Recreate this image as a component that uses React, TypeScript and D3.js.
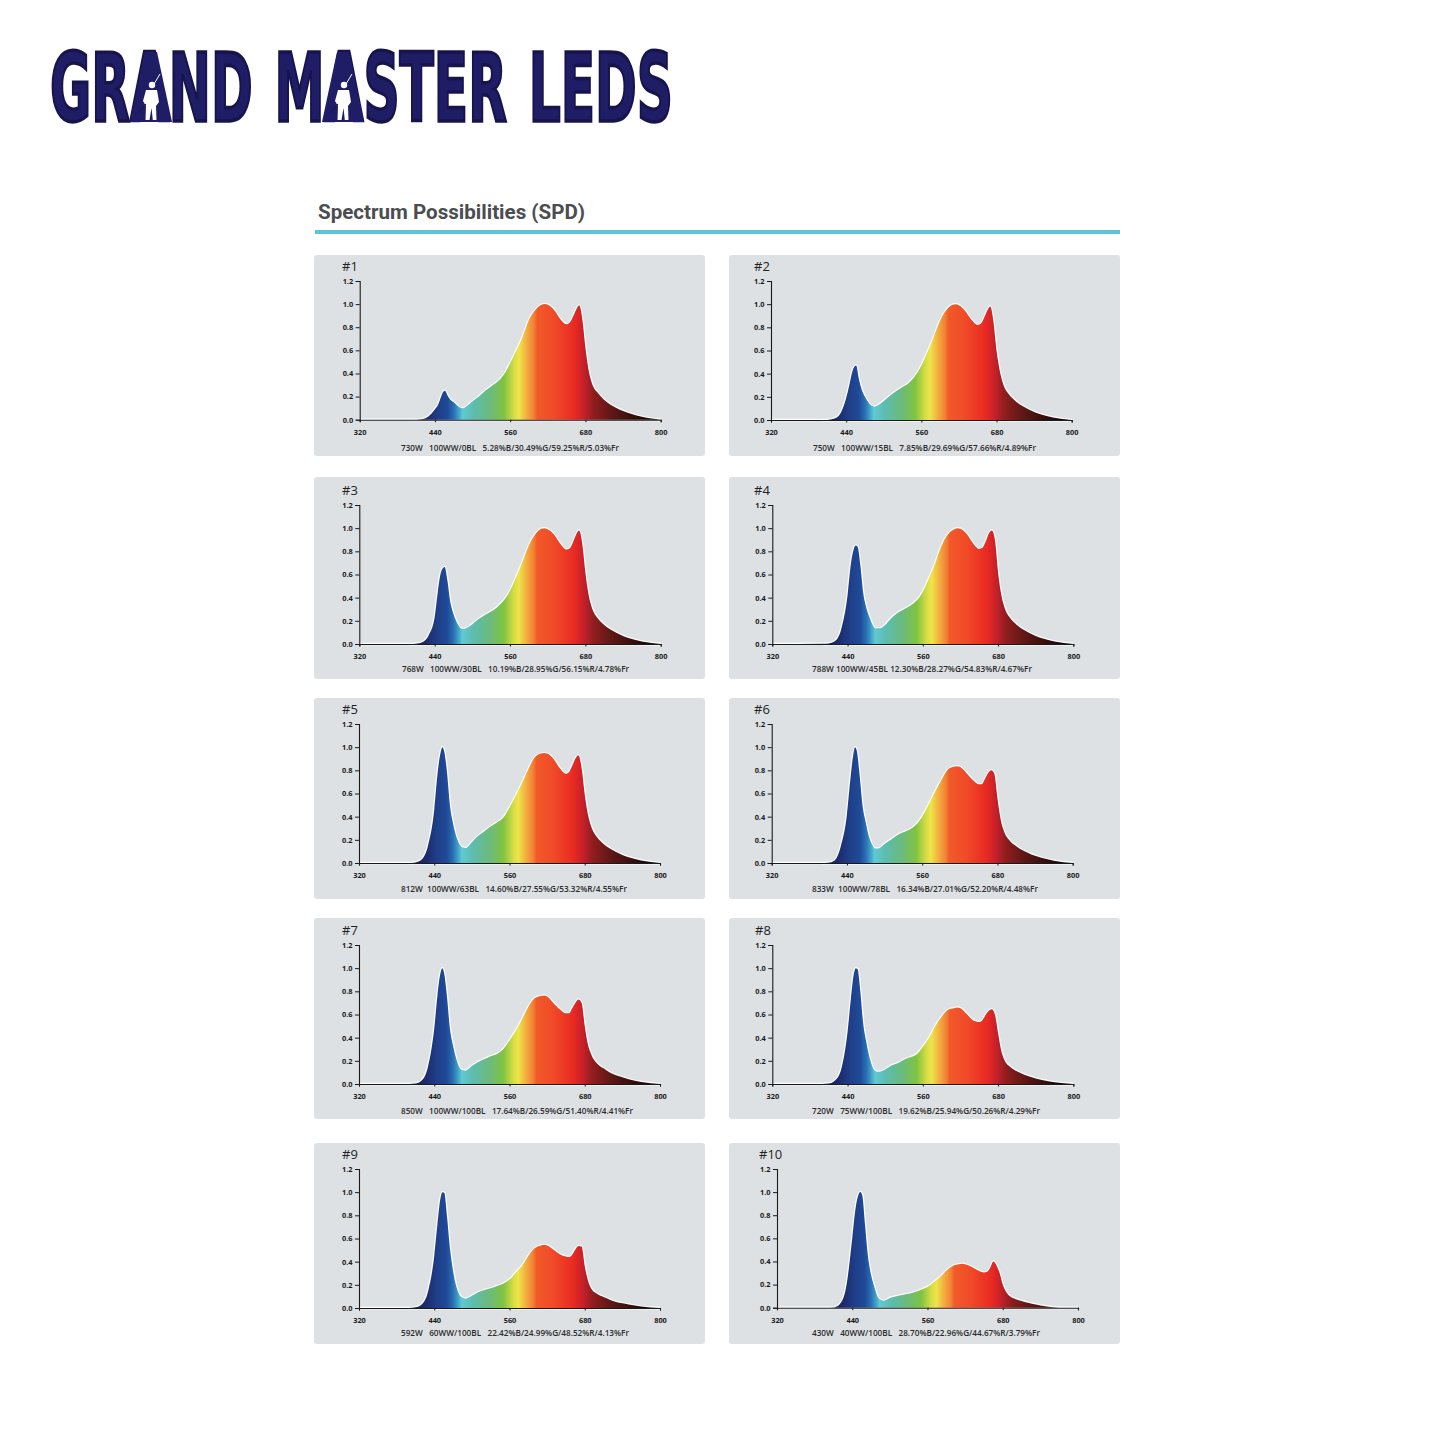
import React, { useEffect, useRef } from 'react';
import * as d3 from 'd3';

// wavelength grid shared by every spectrum (nm)
const wavelengths = [
  320, 400, 410, 420, 430, 440, 445, 450, 453, 456,
  460, 465, 470, 475, 480, 485, 490, 500, 510, 520,
  530, 540, 550, 560, 570, 580, 590, 600, 610, 615,
  620, 630, 640, 650, 655, 660, 665, 670, 675, 680,
  685, 690, 700, 710, 720, 730, 740, 750, 770, 800,
];

const spd1 = [
  0, 0, 0, 0.005, 0.03, 0.09, 0.13, 0.2, 0.24, 0.25,
  0.21, 0.17, 0.15, 0.125, 0.105, 0.1, 0.115, 0.16, 0.2, 0.25,
  0.29, 0.33, 0.39, 0.49, 0.6, 0.72, 0.865, 0.95, 0.995, 1,
  0.995, 0.95, 0.87, 0.825, 0.84, 0.89, 0.95, 0.99, 0.87, 0.62,
  0.43, 0.32, 0.23, 0.17, 0.13, 0.1, 0.075, 0.055, 0.025, 0,
];
const spd2 = [
  0, 0, 0, 0.01, 0.05, 0.19, 0.3, 0.42, 0.46, 0.47,
  0.36, 0.26, 0.2, 0.155, 0.125, 0.115, 0.125, 0.165, 0.21, 0.25,
  0.285, 0.32, 0.38, 0.47, 0.59, 0.72, 0.86, 0.95, 0.995, 1,
  0.99, 0.94, 0.865, 0.82, 0.83, 0.88, 0.94, 0.98, 0.85, 0.6,
  0.43, 0.32, 0.22, 0.165, 0.125, 0.095, 0.07, 0.05, 0.022, 0,
];
const spd3 = [
  0, 0, 0.002, 0.015, 0.07, 0.23, 0.45, 0.62, 0.655, 0.665,
  0.56, 0.36, 0.26, 0.19, 0.145, 0.13, 0.135, 0.17, 0.215, 0.25,
  0.28, 0.32, 0.375, 0.46, 0.58, 0.71, 0.85, 0.945, 0.995, 1,
  0.99, 0.945, 0.865, 0.815, 0.825, 0.875, 0.94, 0.98, 0.87, 0.62,
  0.43, 0.32, 0.22, 0.165, 0.125, 0.095, 0.07, 0.05, 0.022, 0,
];
const spd4 = [
  0, 0.002, 0.005, 0.025, 0.13, 0.42, 0.68, 0.82, 0.85, 0.84,
  0.7, 0.44, 0.31, 0.23, 0.165, 0.135, 0.135, 0.165, 0.225, 0.27,
  0.3, 0.33, 0.375, 0.45, 0.57, 0.7, 0.85, 0.945, 0.99, 1,
  0.995, 0.95, 0.87, 0.82, 0.83, 0.88, 0.95, 0.98, 0.9, 0.62,
  0.43, 0.32, 0.22, 0.165, 0.125, 0.095, 0.07, 0.05, 0.022, 0,
];
const spd5 = [
  0, 0, 0.005, 0.03, 0.15, 0.46, 0.76, 0.95, 1, 0.96,
  0.8, 0.5, 0.34, 0.23, 0.165, 0.135, 0.13, 0.18, 0.235, 0.275,
  0.315, 0.35, 0.39, 0.48, 0.58, 0.69, 0.81, 0.91, 0.945, 0.95,
  0.945, 0.9, 0.82, 0.77, 0.785, 0.84, 0.9, 0.93, 0.82, 0.59,
  0.42, 0.32, 0.22, 0.165, 0.125, 0.095, 0.07, 0.05, 0.022, 0,
];
const spd6 = [
  0, 0, 0.003, 0.02, 0.14, 0.42, 0.7, 0.93, 1, 0.96,
  0.77, 0.49, 0.35, 0.23, 0.16, 0.125, 0.125, 0.165, 0.2, 0.24,
  0.265, 0.29, 0.33, 0.4, 0.5, 0.61, 0.71, 0.8, 0.83, 0.835,
  0.83, 0.78, 0.72, 0.68, 0.68, 0.725, 0.775, 0.8, 0.77, 0.56,
  0.38, 0.28, 0.19, 0.145, 0.11, 0.085, 0.062, 0.045, 0.02, 0,
];
const spd7 = [
  0, 0, 0.004, 0.03, 0.15, 0.48, 0.76, 0.96, 1, 0.95,
  0.77, 0.48, 0.33, 0.22, 0.145, 0.12, 0.115, 0.155, 0.19, 0.215,
  0.24, 0.26, 0.3, 0.375, 0.46, 0.56, 0.665, 0.74, 0.76, 0.765,
  0.755, 0.7, 0.645, 0.61, 0.61, 0.655, 0.7, 0.73, 0.7, 0.5,
  0.34, 0.26, 0.175, 0.135, 0.1, 0.075, 0.058, 0.04, 0.018, 0,
];
const spd8 = [
  0, 0, 0.004, 0.03, 0.13, 0.45, 0.72, 0.95, 1, 0.99,
  0.82, 0.52, 0.36, 0.23, 0.145, 0.11, 0.105, 0.125, 0.16, 0.18,
  0.21, 0.23, 0.255, 0.32, 0.4, 0.5, 0.58, 0.64, 0.655, 0.66,
  0.655, 0.605, 0.55, 0.535, 0.55, 0.595, 0.63, 0.645, 0.6, 0.44,
  0.29, 0.21, 0.145, 0.11, 0.085, 0.065, 0.048, 0.035, 0.015, 0,
];
const spd9 = [
  0, 0, 0.006, 0.03, 0.14, 0.45, 0.72, 0.95, 1, 0.995,
  0.81, 0.52, 0.32, 0.19, 0.115, 0.09, 0.08, 0.105, 0.135, 0.155,
  0.17, 0.19, 0.21, 0.245, 0.305, 0.365, 0.45, 0.515, 0.54, 0.545,
  0.54, 0.505, 0.465, 0.445, 0.44, 0.46, 0.505, 0.535, 0.53, 0.36,
  0.24, 0.17, 0.12, 0.095, 0.072, 0.052, 0.04, 0.03, 0.012, 0,
];
const spd10 = [
  0, 0, 0.002, 0.03, 0.17, 0.6, 0.85, 0.98, 1, 0.97,
  0.74, 0.45, 0.285, 0.185, 0.1, 0.07, 0.06, 0.085, 0.1, 0.11,
  0.12, 0.135, 0.155, 0.18, 0.22, 0.265, 0.32, 0.36, 0.375, 0.38,
  0.375, 0.355, 0.325, 0.305, 0.31, 0.345, 0.4, 0.365, 0.3, 0.2,
  0.14, 0.105, 0.075, 0.058, 0.042, 0.03, 0.02, 0.01, 0, 0,
];
const spectra = [spd1, spd2, spd3, spd4, spd5, spd6, spd7, spd8, spd9, spd10];

const chartNames = ['#1', '#2', '#3', '#4', '#5', '#6', '#7', '#8', '#9', '#10'];
const captions = [
  '730W   100WW/0BL   5.28%B/30.49%G/59.25%R/5.03%Fr',
  '750W   100WW/15BL   7.85%B/29.69%G/57.66%R/4.89%Fr',
  '768W   100WW/30BL   10.19%B/28.95%G/56.15%R/4.78%Fr',
  '788W 100WW/45BL 12.30%B/28.27%G/54.83%R/4.67%Fr',
  '812W  100WW/63BL   14.60%B/27.55%G/53.32%R/4.55%Fr',
  '833W  100WW/78BL   16.34%B/27.01%G/52.20%R/4.48%Fr',
  '850W   100WW/100BL   17.64%B/26.59%G/51.40%R/4.41%Fr',
  '720W   75WW/100BL   19.62%B/25.94%G/50.26%R/4.29%Fr',
  '592W   60WW/100BL   22.42%B/24.99%G/48.52%R/4.13%Fr',
  '430W   40WW/100BL   28.70%B/22.96%G/44.67%R/3.79%Fr',
];

const xTicks = [320, 440, 560, 680, 800];
const yTicks = [0, 0.2, 0.4, 0.6, 0.8, 1.0, 1.2];

// colour of the fill along the wavelength axis
const gradientNm = [417, 428, 445, 460, 470, 478, 484, 502, 529, 550, 566, 574, 588, 598, 603, 630, 662, 678, 693, 725, 780, 800];
const gradientColors = [
  '#1a2464', '#1d2c6e', '#1f3f8a', '#1f4a97', '#2a6fb4', '#3fa3c9', '#62c9d2', '#5cbcae', '#6cbb7a', '#80c341', '#d5dc45',
  '#eee548', '#f3a63e', '#f37f34', '#f15a29', '#f04a28', '#e92a22', '#c3202a', '#8f1d1f', '#5a1714', '#1a0808', '#0a0303',
];

// page placement of each panel and its plot area
const panelBoxes = [
  { x: 314, y: 255, h: 201, left: 359.7, right: 660.7, top: 281, bottom: 419.7, labelX: 342, labelY: 271, capL: 401, capR: 619, capY: 450.5 },
  { x: 729, y: 255, h: 201, left: 771, right: 1071.7, top: 281, bottom: 420, labelX: 754, labelY: 271, capL: 813, capR: 1036, capY: 450.5 },
  { x: 314, y: 477, h: 202, left: 359.3, right: 660.7, top: 505, bottom: 644, labelX: 342, labelY: 495, capL: 402, capR: 629, capY: 672 },
  { x: 729, y: 477, h: 202, left: 772.3, right: 1073.3, top: 505, bottom: 644, labelX: 754, labelY: 495, capL: 812, capR: 1032, capY: 672 },
  { x: 314, y: 698, h: 201, left: 359, right: 660, top: 724, bottom: 863, labelX: 342, labelY: 714, capL: 401, capR: 627, capY: 891.5 },
  { x: 729, y: 698, h: 201, left: 771.7, right: 1072.7, top: 724, bottom: 863, labelX: 754, labelY: 714, capL: 812, capR: 1038, capY: 891.5 },
  { x: 314, y: 918, h: 201, left: 359, right: 660, top: 945, bottom: 1084, labelX: 342, labelY: 935, capL: 401, capR: 633, capY: 1113.5 },
  { x: 729, y: 918, h: 201, left: 772.3, right: 1073.3, top: 945, bottom: 1084, labelX: 755, labelY: 935, capL: 812, capR: 1040, capY: 1113.5 },
  { x: 314, y: 1143, h: 201, left: 359, right: 660, top: 1169, bottom: 1308, labelX: 342, labelY: 1159, capL: 401, capR: 629, capY: 1335.5 },
  { x: 729, y: 1143, h: 201, left: 777, right: 1078, top: 1169, bottom: 1307.7, labelX: 759, labelY: 1159, capL: 812, capR: 1040, capY: 1335.5 },
];

const tickFont = '"Open Sans", sans-serif';

const SpectrumPanel: React.FC<{ index: number }> = ({ index }) => {
  const xAxisRef = useRef<SVGGElement>(null);
  const yAxisRef = useRef<SVGGElement>(null);
  const box = panelBoxes[index];
  const values = spectra[index];

  const xScale = d3.scaleLinear().domain([320, 800]).range([box.left, box.right]);
  const yScale = d3.scaleLinear().domain([0, 1.2]).range([box.bottom, box.top]);

  const points = wavelengths.map((w, i) => [w, values[i]] as [number, number]);
  const area = d3.area<[number, number]>()
    .curve(d3.curveMonotoneX)
    .x(d => xScale(d[0]))
    .y0(box.bottom)
    .y1(d => yScale(d[1]));
  const line = d3.line<[number, number]>()
    .curve(d3.curveMonotoneX)
    .x(d => xScale(d[0]))
    .y(d => yScale(d[1]));

  useEffect(() => {
    const xAxis = d3.axisBottom(xScale).tickValues(xTicks).tickSize(2.5).tickFormat(d => `${d}`);
    const yAxis = d3.axisLeft(yScale).tickValues(yTicks).tickSize(4).tickPadding(2.5).tickFormat(d => (+d).toFixed(1));
    [d3.select(xAxisRef.current!).call(xAxis as any), d3.select(yAxisRef.current!).call(yAxis as any)].forEach(g => {
      g.selectAll('path').attr('stroke', '#1a1a1a').attr('stroke-width', 1.1);
      g.selectAll('line').attr('stroke', '#1a1a1a').attr('stroke-width', 1);
      g.selectAll('text')
        .attr('fill', '#1a1a1a')
        .style('font-family', tickFont)
        .style('font-size', '7.4px')
        .style('font-weight', 700);
    });
    // x labels sit well below the short ticks
    d3.select(xAxisRef.current!).selectAll('text').attr('y', 10);
  }, [index]);

  const gradId = `spd-fill-${index}`;
  return (
    <g>
      <rect x={box.x} y={box.y} width={391} height={box.h} rx={3} fill="#dee1e4" />
      <text x={box.labelX} y={box.labelY} fontFamily={tickFont} fontSize={13} fill="#222">{chartNames[index]}</text>
      <defs>
        <linearGradient id={gradId} gradientUnits="userSpaceOnUse" x1={xScale(320)} x2={xScale(800)} y1={0} y2={0}>
          {gradientNm.map((nm, i) => (
            <stop key={nm} offset={(nm - 320) / 480} stopColor={gradientColors[i]} />
          ))}
        </linearGradient>
      </defs>
      <path d={line(points) || ''} fill="none" stroke="#fff" strokeWidth={2.4} strokeLinejoin="round" />
      <path d={area(points) || ''} fill={`url(#${gradId})`} />
      <line x1={xScale(400)} x2={xScale(800)} y1={box.bottom + 1} y2={box.bottom + 1} stroke="#fff" strokeWidth={1} />
      <g ref={xAxisRef} transform={`translate(0,${box.bottom})`} />
      <g ref={yAxisRef} transform={`translate(${box.left},0)`} />
      <text
        x={box.capL}
        y={box.capY}
        textLength={box.capR - box.capL}
        lengthAdjust="spacingAndGlyphs"
        fontFamily={tickFont}
        fontSize={8.2}
        fontWeight={600}
        fill="#2b2b2b"
        style={{ whiteSpace: 'pre' }}
      >
        {captions[index]}
      </text>
    </g>
  );
};

// solid letter A of the logo with the white player figure cut out of it
const LogoA: React.FC<{ cx: number }> = ({ cx }) => (
  <g transform={`translate(${cx},0)`}>
    <path d="M-6 52 L6 52 L21 122 L-21 122 Z" fill="#1f1d66" />
    <g fill="#fff">
      <circle cx={1} cy={85} r={3.2} />
      <path d="M-5 90 L6 90 L8 102 L5 106 L5.5 120 L1.8 120 L0.5 108 L-1.5 120 L-5.5 120 L-5 106 L-8 101 Z" />
    </g>
    <path d="M3 84 L9 74" stroke="#fff" strokeWidth={1} />
    <path d="M-5 104 L-13 113" stroke="#16144a" strokeWidth={1} />
  </g>
);

const logoText = 'GRAND MASTER LEDS';
const logoACenters = [151, 343];

export default function App() {
  return (
    <svg width={1445} height={1445} style={{ position: 'absolute', left: 0, top: 0, background: '#fff' }}>
      <text
        x={50}
        y={120.5}
        textLength={623}
        lengthAdjust="spacingAndGlyphs"
        fontFamily='"DejaVu Sans", sans-serif'
        fontWeight={700}
        fontSize={94}
        wordSpacing={8}
        fill="#1f1d66"
        stroke="#16144a"
        strokeWidth={3.4}
        strokeLinejoin="miter"
      >
        {logoText}
      </text>
      {logoACenters.map(cx => (
        <LogoA key={cx} cx={cx} />
      ))}

      <text
        x={318}
        y={219}
        textLength={267}
        lengthAdjust="spacingAndGlyphs"
        fontFamily="Roboto, sans-serif"
        fontWeight={700}
        fontSize={19.5}
        fill="#4b4d50"
      >
        Spectrum Possibilities (SPD)
      </text>
      <rect x={315} y={230} width={805} height={4} fill="#5cc4d2" />

      {panelBoxes.map((_, i) => (
        <SpectrumPanel key={i} index={i} />
      ))}
    </svg>
  );
}
